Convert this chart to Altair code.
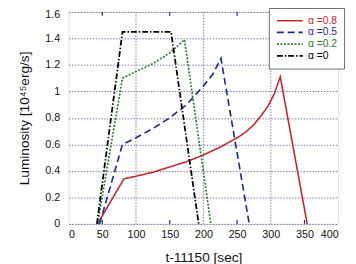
import altair as alt
import pandas as pd

# ---- data ----
series_names = ["α =0.8", "α =0.5", "α =0.2", "α =0"]
series_colors = ["#c4262b", "#1a2a9a", "#2a7d2a", "#000000"]
series_dash = [[1, 0], [7, 4], [2, 1.6], [6, 2, 1.5, 2]]
series_width = [1.6, 1.8, 1.5, 1.2]

red_t = [43, 82, 100, 125, 150, 175, 200, 225, 250, 262, 275, 286, 296, 305, 314, 354]
red_L = [0, 0.34, 0.36, 0.39, 0.43, 0.47, 0.52, 0.58, 0.65, 0.69, 0.75, 0.82, 0.89, 0.98, 1.11, 0]

blue_t = [46, 80, 100, 125, 150, 175, 200, 214, 226, 268]
blue_L = [0, 0.60, 0.65, 0.72, 0.80, 0.90, 1.04, 1.13, 1.25, 0]

green_t = [43, 80, 100, 125, 150, 172, 211]
green_L = [0, 1.10, 1.15, 1.21, 1.29, 1.39, 0]

black_t = [42, 80, 152, 193]
black_L = [0, 1.45, 1.45, 0]

x_label_values = [0, 50, 100, 150, 200, 250, 300, 350, 400]
x_grid_values = [100, 200, 300]
y_label_values = [0, 0.2, 0.4, 0.6, 0.8, 1.0, 1.2, 1.4, 1.6]
minor_ticks = [50, 150, 250, 350]

rows = []
for name, ts, Ls in [(series_names[0], red_t, red_L), (series_names[1], blue_t, blue_L),
                     (series_names[2], green_t, green_L), (series_names[3], black_t, black_L)]:
    for i, (t, L) in enumerate(zip(ts, Ls)):
        rows.append({"series": name, "t": t, "L": L, "order": i})
df = pd.DataFrame(rows)
ticks_df = pd.DataFrame({"t": minor_ticks})
grid_df = pd.DataFrame({"t": x_grid_values})

FONT = "Liberation Sans"
W, H = 276, 217

label_color_expr = " : ".join(
    f"datum.value == '{n}' ? '{c}'" for n, c in zip(series_names, series_colors)
) + " : 'black'"

xscale = alt.Scale(domain=[0, 400], nice=False, zero=False)
yscale = alt.Scale(domain=[0, 1.6], nice=False)

x_axis = alt.Axis(values=x_label_values, title="t-11150 [sec]", grid=False,
                  ticks=False, domain=False, labelPadding=5, labelOverlap=False,
                  labelFontSize=11, labelFont=FONT, labelColor="#111",
                  titleFont=FONT, titleFontSize=14, titleFontWeight="normal",
                  titlePadding=11, titleColor="#111")
X = alt.X("t:Q", scale=xscale, axis=x_axis)

grid = alt.Chart(grid_df).mark_rule(color="#7a7aa8", strokeDash=[1.5, 1.5], strokeWidth=1).encode(
    x=X)

lines = alt.Chart(df).mark_line(clip=True).encode(
    x=X,
    y=alt.Y("L:Q", scale=yscale,
            axis=alt.Axis(values=y_label_values, format=".1~f",
                          title="Luminosity [10⁴⁵erg/s]",
                          grid=True, gridColor="#7a7aa8", gridDash=[1.5, 1.5], gridWidth=1,
                          ticks=False, domain=False, labelPadding=9, labelOverlap=False,
                          labelOffset={"condition": {"test": "datum.value >= 1.59", "value": 3}, "value": 0},
                          labelFontSize=11, labelFont=FONT, labelColor="#111",
                          titleFont=FONT, titleFontSize=14, titleFontWeight="normal",
                          titlePadding=14, titleColor="#111")),
    color=alt.Color("series:N",
                    scale=alt.Scale(domain=series_names, range=series_colors),
                    legend=alt.Legend(title=None, orient="none", legendX=205, legendY=-4,
                                      symbolType="stroke", symbolSize=700,
                                      symbolStrokeWidth=1.2,
                                      labelFont=FONT, labelFontSize=10.5,
                                      labelColor={"expr": label_color_expr},
                                      labelOffset=4, rowPadding=0, clipHeight=12,
                                      padding=7, strokeColor="#6a6a6a",
                                      fillColor="white", cornerRadius=0)),
    strokeDash=alt.StrokeDash("series:N",
                              scale=alt.Scale(domain=series_names, range=series_dash),
                              legend=None),
    strokeWidth=alt.StrokeWidth("series:N",
                                scale=alt.Scale(domain=series_names, range=series_width),
                                legend=None),
    order="order:Q",
    detail="series:N",
)

tick_bottom = alt.Chart(ticks_df).mark_rule(color="#2a2ab0", strokeWidth=1.3).encode(
    x=X, y=alt.value(H - 4), y2=alt.value(H))
tick_top = alt.Chart(ticks_df).mark_rule(color="#2a2ab0", strokeWidth=1.3).encode(
    x=X, y=alt.value(0), y2=alt.value(4))

chart = alt.layer(grid, lines, tick_bottom, tick_top).properties(
    width=W, height=H, autosize="none",
    padding={"left": 62, "top": 1, "right": 10, "bottom": 38},
).configure_view(stroke="#8686a0", strokeWidth=1).configure(background="white")

chart.save("out.html", embed_options={"renderer": "svg", "actions": False})
